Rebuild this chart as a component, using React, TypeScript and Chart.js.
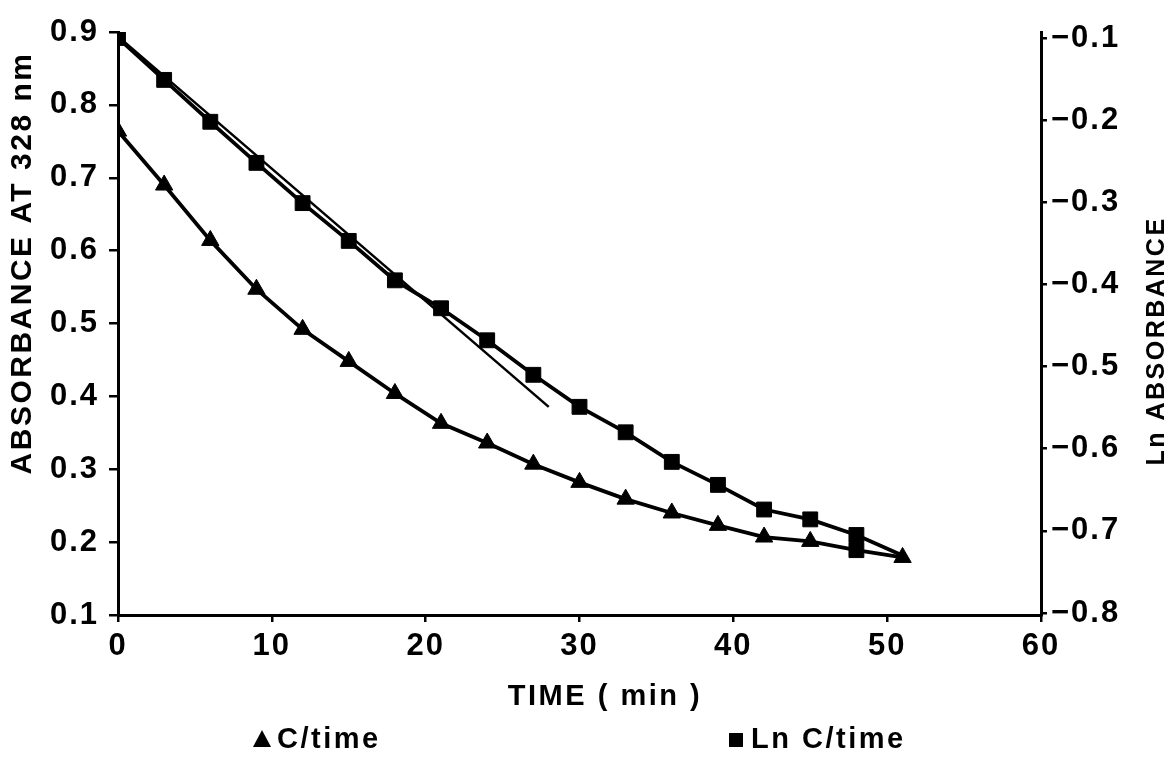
import React, { useEffect, useRef } from 'react';
import { Chart, registerables } from 'chart.js';

Chart.register(...registerables);

// ---- data ----
const times = [0, 3, 6, 9, 12, 15, 18, 21, 24, 27, 30, 33, 36, 39, 42, 45, 48, 51];
const cTime = [0.764, 0.69, 0.614, 0.547, 0.492, 0.448, 0.404, 0.363, 0.336, 0.307, 0.282, 0.259, 0.24, 0.223, 0.207, 0.201, 0.189, 0.179];
const lnCTime = [-0.1, -0.151, -0.202, -0.252, -0.301, -0.347, -0.395, -0.429, -0.468, -0.51, -0.549, -0.58, -0.616, -0.644, -0.674, -0.686, -0.705, -0.73];
const fitTimes = [0, 28];
const fitLn = [-0.098, -0.549];

const xTicks = [0, 10, 20, 30, 40, 50, 60];
const xTickLabels = ['0', '10', '20', '30', '40', '50', '60'];
const leftTicks = [0.1, 0.2, 0.3, 0.4, 0.5, 0.6, 0.7, 0.8, 0.9];
const leftTickLabels = ['0.1', '0.2', '0.3', '0.4', '0.5', '0.6', '0.7', '0.8', '0.9'];
const rightTicks = [-0.8, -0.7, -0.6, -0.5, -0.4, -0.3, -0.2, -0.1];
const rightTickLabels = ['\u22120.8', '\u22120.7', '\u22120.6', '\u22120.5', '\u22120.4', '\u22120.3', '\u22120.2', '\u22120.1'];

const seriesLabels = ['C/time', 'Ln C/time'];
const xAxisTitle = 'TIME ( min )';
const leftAxisTitle = 'ABSORBANCE AT 328 nm';
const rightAxisTitle = 'Ln ABSORBANCE';

const FONT = "'Liberation Sans', Arial, Helvetica, sans-serif";

const paperText = {
  id: 'paperText',
  beforeDraw(chart: any) {
    chart.ctx.letterSpacing = '2px';
  },
  afterDraw(chart: any) {
    const ctx = chart.ctx;
    ctx.save();
    ctx.fillStyle = '#000';
    ctx.textBaseline = 'middle';

    // left axis title
    ctx.save();
    ctx.font = `bold 30px ${FONT}`;
    ctx.letterSpacing = '2.5px';
    ctx.textAlign = 'center';
    ctx.translate(23, 263);
    ctx.rotate(-Math.PI / 2);
    ctx.fillText(leftAxisTitle, 0, 0);
    ctx.restore();

    // right axis title
    ctx.save();
    ctx.font = `bold 25px ${FONT}`;
    ctx.letterSpacing = '2.5px';
    ctx.textAlign = 'center';
    ctx.translate(1157, 341);
    ctx.rotate(-Math.PI / 2);
    ctx.fillText(rightAxisTitle, 0, 0);
    ctx.restore();

    // x axis title
    ctx.save();
    ctx.font = `bold 29px ${FONT}`;
    ctx.letterSpacing = '2.5px';
    ctx.textAlign = 'center';
    ctx.fillText(xAxisTitle, 605, 697);
    ctx.restore();

    // legend
    const legendY = 740;
    ctx.save();
    ctx.font = `bold 29px ${FONT}`;
    ctx.letterSpacing = '2.5px';
    ctx.textAlign = 'left';
    // triangle marker
    ctx.beginPath();
    ctx.moveTo(262, legendY - 10);
    ctx.lineTo(271, legendY + 7);
    ctx.lineTo(253, legendY + 7);
    ctx.closePath();
    ctx.fill();
    ctx.fillText(seriesLabels[0], 277, legendY);
    // square marker
    ctx.fillRect(729, legendY - 7, 14, 14);
    ctx.fillText(seriesLabels[1], 751, legendY);
    ctx.restore();

    ctx.restore();
  },
};

function tickFont() {
  return { family: FONT, size: 31, weight: 'bold' as const };
}

export default function App() {
  const ref = useRef<HTMLCanvasElement | null>(null);

  useEffect(() => {
    document.body.style.margin = '0';
    const canvas = ref.current;
    if (!canvas) return;
    const last = times.length - 1;

    const chart = new Chart(canvas, {
      type: 'line',
      data: {
        datasets: [
          {
            label: seriesLabels[0],
            data: times.map((t, i) => ({ x: t, y: cTime[i] })),
            yAxisID: 'y',
            borderColor: '#000',
            backgroundColor: '#000',
            borderWidth: 3.8,
            tension: 0,
            pointStyle: times.map((_, i) => (i === 16 ? 'rect' : 'triangle')) as any,
            pointRadius: times.map((_, i) => (i === 16 ? 10.5 : 10)),
            pointBorderWidth: 1,
            pointBackgroundColor: '#000',
            pointBorderColor: '#000',
          },
          {
            label: seriesLabels[1],
            data: times.map((t, i) => ({ x: t, y: lnCTime[i] })),
            yAxisID: 'y2',
            borderColor: '#000',
            backgroundColor: '#000',
            borderWidth: 3.8,
            tension: 0,
            pointStyle: 'rect',
            pointRadius: times.map((_, i) => (i === last ? 0 : 10.5)),
            pointBorderWidth: 1,
            pointBackgroundColor: '#000',
            pointBorderColor: '#000',
          },
          {
            label: 'fit',
            data: fitTimes.map((t, i) => ({ x: t, y: fitLn[i] })),
            yAxisID: 'y2',
            borderColor: '#000',
            borderWidth: 2.5,
            pointRadius: 0,
            tension: 0,
          },
        ],
      },
      options: {
        responsive: false,
        animation: false,
        devicePixelRatio: 1,
        events: [],
        layout: { padding: { top: 32, left: 0, right: 0, bottom: 95 } },
        plugins: {
          legend: { display: false },
          tooltip: { enabled: false },
          title: { display: false },
        },
        scales: {
          x: {
            type: 'linear',
            min: 0,
            max: 60,
            afterBuildTicks: (s: any) => {
              s.ticks = xTicks.map((v) => ({ value: v }));
            },
            afterFit: (s: any) => {
              s.height = 50;
            },
            ticks: {
              autoSkip: false,
              maxRotation: 0,
              padding: 6,
              color: '#000',
              font: tickFont(),
              callback: (v: any) => xTickLabels[xTicks.indexOf(v)],
            },
            grid: { display: true, drawOnChartArea: false, drawTicks: true, tickLength: 7, color: '#000', lineWidth: 2.5 },
            border: { display: true, color: '#000', width: 3 },
          },
          y: {
            type: 'linear',
            position: 'left',
            min: 0.1,
            max: 0.9,
            afterBuildTicks: (s: any) => {
              s.ticks = leftTicks.map((v) => ({ value: v }));
            },
            afterFit: (s: any) => {
              s.width = 118;
            },
            ticks: {
              autoSkip: false,
              padding: 10,
              color: '#000',
              font: tickFont(),
              callback: (v: any) => leftTickLabels[leftTicks.indexOf(v)],
            },
            grid: { display: true, drawOnChartArea: false, drawTicks: true, tickLength: 9, color: '#000', lineWidth: 2.5 },
            border: { display: true, color: '#000', width: 3 },
          },
          y2: {
            type: 'linear',
            position: 'right',
            min: -0.8024,
            max: -0.0927,
            afterBuildTicks: (s: any) => {
              s.ticks = rightTicks.map((v) => ({ value: v }));
            },
            afterFit: (s: any) => {
              s.width = 132;
            },
            ticks: {
              autoSkip: false,
              padding: 4,
              color: '#000',
              font: tickFont(),
              callback: (v: any) => rightTickLabels[rightTicks.indexOf(v)],
            },
            grid: { display: true, drawOnChartArea: false, drawTicks: true, tickLength: 6, color: '#000', lineWidth: 2.5 },
            border: { display: true, color: '#000', width: 3 },
          },
        },
      },
      plugins: [paperText],
    } as any);

    return () => {
      chart.destroy();
    };
  }, []);

  return (
    <canvas
      ref={ref}
      width={1173}
      height={760}
      style={{ display: 'block', width: '1173px', height: '760px', background: '#fff' }}
    />
  );
}
